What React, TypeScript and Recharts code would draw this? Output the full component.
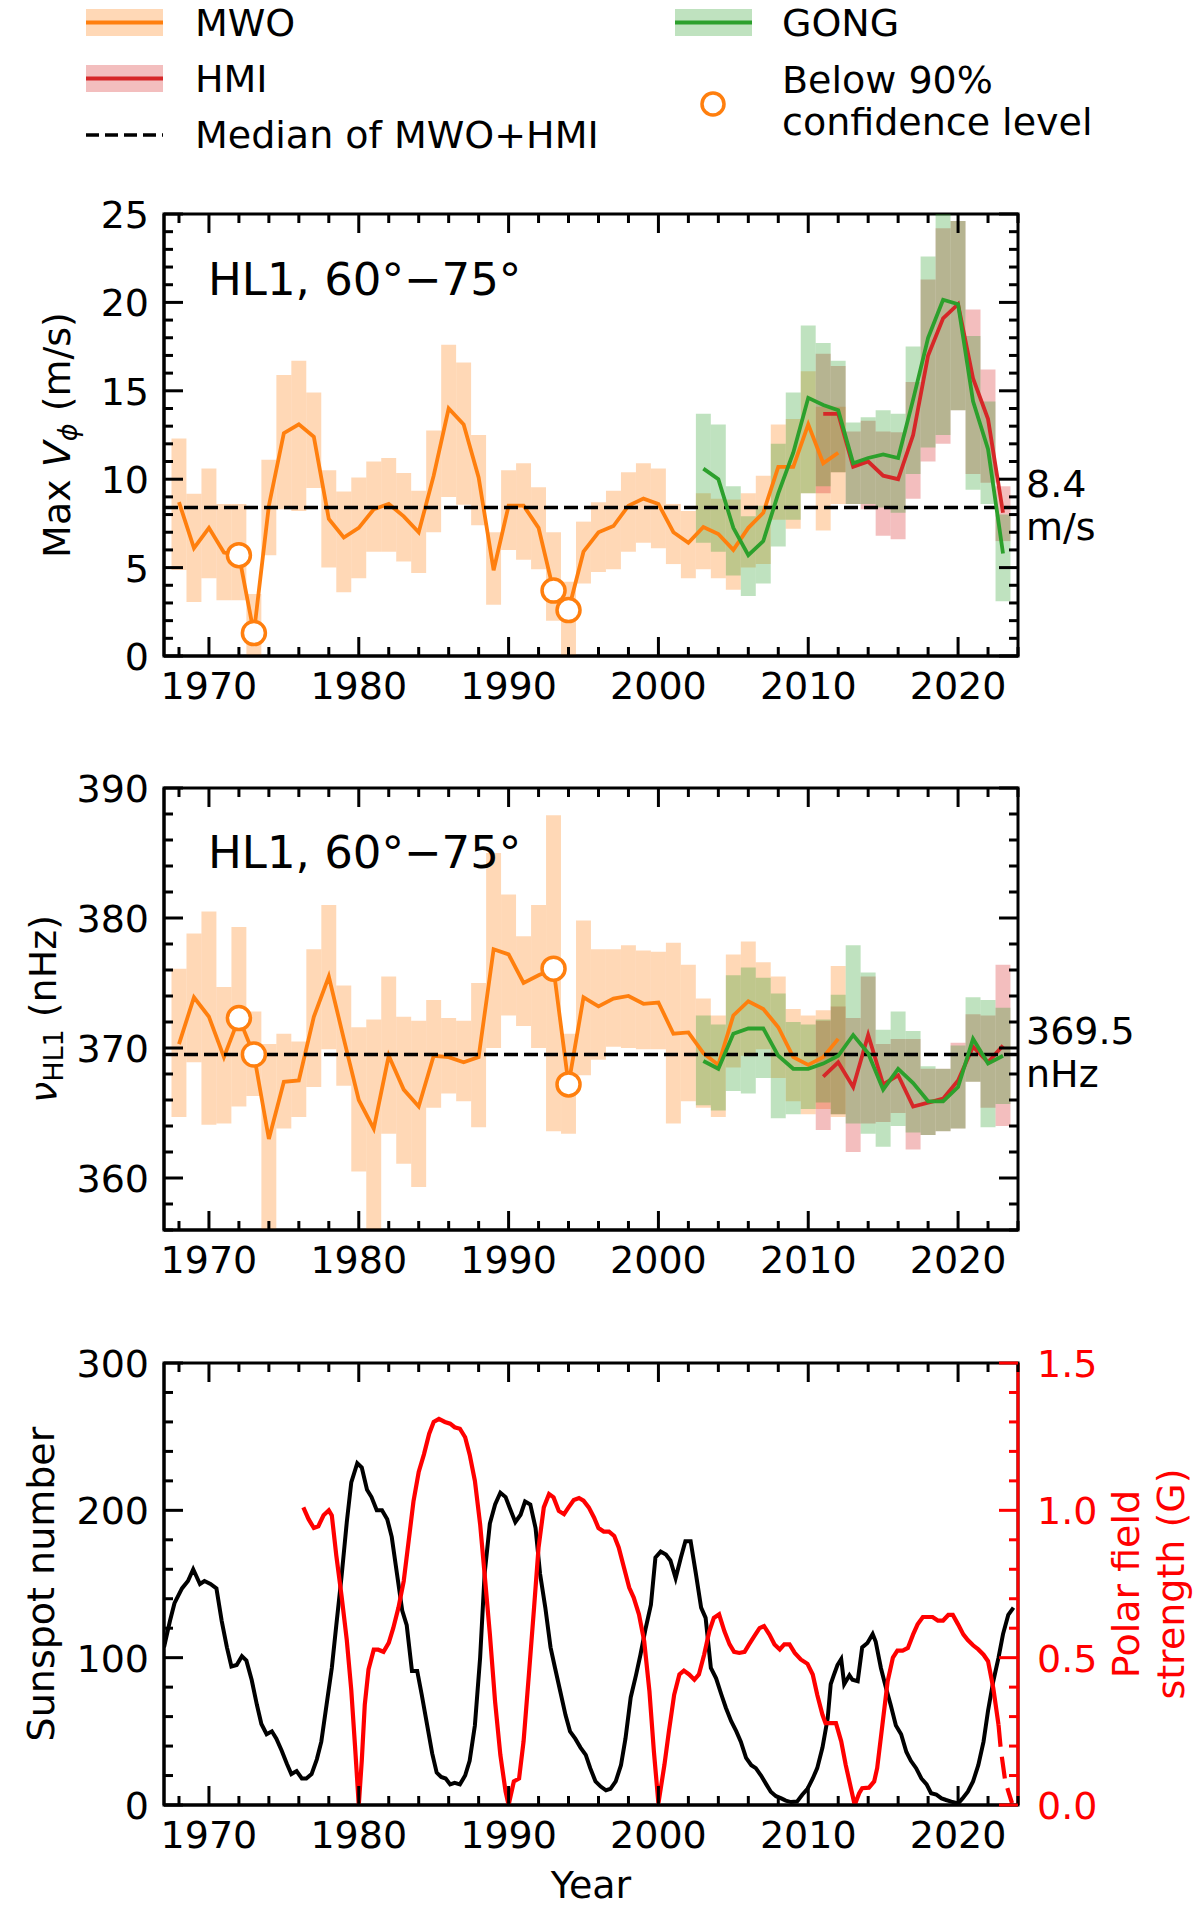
import React from "react";
import {
  Bar,
  ComposedChart,
  Line,
  ReferenceArea,
  ReferenceLine,
  Scatter,
  XAxis,
  YAxis,
} from "recharts";

const FONT = "DejaVu Sans, Verdana, sans-serif";
const ORANGE = "#ff7f0e";
const GREEN = "#2ca02c";
const RED = "#d62728";
const POLAR_RED = "#ff0000";

const PLOT_L = 164;
const PLOT_R = 1018;
const PW = PLOT_R - PLOT_L;
const PH = 442;
const MT = 30;
const AXIS_H = 105;
const X_DOMAIN = [1967, 2024];
const BAR_W = PW / (X_DOMAIN[1] - X_DOMAIN[0]) - 0.05;
const LW = 3.8;

const P1_TOP = 214;
const P2_TOP = 788;
const P3_TOP = 1363;

// ---- ticks ----
const X_TICKS = [
  1968, 1970, 1972, 1974, 1976, 1978, 1980, 1982, 1984, 1986, 1988, 1990, 1992,
  1994, 1996, 1998, 2000, 2002, 2004, 2006, 2008, 2010, 2012, 2014, 2016, 2018,
  2020, 2022, 2024,
];
const V_TICKS = [
  0, 1, 2, 3, 4, 5, 6, 7, 8, 9, 10, 11, 12, 13, 14, 15, 16, 17, 18, 19, 20, 21,
  22, 23, 24, 25,
];
const NU_TICKS = [
  356, 358, 360, 362, 364, 366, 368, 370, 372, 374, 376, 378, 380, 382, 384, 386,
  388, 390,
];
const SSN_TICKS = [
  0, 20, 40, 60, 80, 100, 120, 140, 160, 180, 200, 220, 240, 260, 280, 300,
];
const POLAR_TICKS = [
  0, 0.1, 0.2, 0.3, 0.4, 0.5, 0.6, 0.7, 0.8, 0.9, 1.0, 1.1, 1.2, 1.3, 1.4, 1.5,
];

// ---- years ----
const YEARS = Array.from({ length: 56 }, (_, i) => 1968 + i);
const MWO_START = 1968;
const GONG_START = 2003;
const HMI_START = 2011;

// ---- panel 1: max V_phi (m/s) ----
const V_MWO = [
  8.7, 6.1, 7.25, 5.85, 5.7, 1.3, 8.5, 12.6, 13.1, 12.4, 7.75, 6.7, 7.25, 8.3,
  8.6, 7.9, 7.0, 10.2, 14.0, 13.1, 10.1, 4.85, 8.5, 8.5, 7.25, 3.7, 2.6, 5.9,
  7.0, 7.35, 8.5, 8.9, 8.6, 7.0, 6.4, 7.3, 6.9, 6.0, 7.25, 8.1, 10.7, 10.7, 13.1,
  10.9, 11.5,
];
const V_MWO_LO = [
  4.86, 3.05, 4.4, 3.15, 3.15, -1, 5.7, 8.3, 8.2, 9.5, 5.0, 3.6, 4.4, 5.9, 5.9,
  5.35, 4.7, 7.0, 9.0, 8.55, 7.4, 2.9, 6.0, 5.45, 4.9, 2.0, -1, 4.1, 4.75, 4.9,
  5.9, 6.4, 6.1, 5.2, 4.4, 4.9, 4.4, 3.75, 5.0, 5.2, 7.7, 7.2, 9.2, 7.1, 8.6,
];
const V_MWO_HI = [
  12.3, 9.17, 10.6, 8.6, 8.6, 3.5, 11.1, 15.9, 16.7, 14.9, 10.5, 9.3, 10.1, 11.0,
  11.2, 10.35, 9.35, 12.75, 17.6, 16.6, 12.5, 7.0, 10.5, 10.9, 9.55, 7.0, 4.2,
  7.6, 8.7, 9.35, 10.4, 10.9, 10.6, 8.6, 8.2, 9.2, 8.9, 8.85, 9.2, 10.2, 13.1,
  13.4, 16.1, 14.1, 14.1,
];
const V_GONG = [
  10.6, 10.0, 7.25, 5.7, 6.5, 9.2, 11.5, 14.6, 14.2, 13.9, 10.9, 11.2, 11.4,
  11.2, 14.5, 18.0, 20.15, 19.9, 14.4, 11.7, 5.8,
];
const V_GONG_LO = [
  6.4, 5.9, 4.55, 3.4, 4.1, 6.2, 7.7, 9.2, 9.6, 10.4, 8.6, 8.6, 8.4, 8.1, 10.3,
  11.8, 12.5, 13.9, 9.4, 8.6, 3.1,
];
const V_GONG_HI = [
  13.7, 13.1, 9.6, 7.9, 8.5, 12.0, 14.9, 18.7, 17.7, 16.7, 13.2, 13.5, 13.9,
  13.7, 17.5, 22.6, 25.8, 24.6, 18.1, 14.4, 8.0,
];
const V_HMI = [
  13.7, 13.7, 10.7, 11.0, 10.2, 10.0, 12.5, 17.0, 19.1, 19.9, 15.7, 13.4, 8.1,
];
const V_HMI_LO = [
  9.2, 10.4, 8.6, 8.3, 6.8, 6.6, 8.9, 11.0, 12.0, 13.9, 10.3, 9.8, 6.5,
];
const V_HMI_HI = [
  17.1, 16.4, 12.7, 13.3, 12.7, 12.65, 15.5, 21.3, 24.2, 24.6, 19.6, 16.2, 9.6,
];
const V_LOWCONF_YEARS = [1972, 1973, 1993, 1994];
const V_LOWCONF = [5.7, 1.3, 3.7, 2.6];
const V_MEDIAN = 8.4;

// ---- panel 2: nu_HL1 (nHz) ----
const NU_MWO = [
  370.3, 373.9, 372.4, 369.3, 372.3, 369.5, 363.0, 367.4, 367.5, 372.4, 375.5,
  370.7, 366.0, 363.8, 369.4, 366.8, 365.5, 369.4, 369.3, 368.9, 369.3, 377.6,
  377.2, 375.0, 375.6, 376.1, 367.2, 373.9, 373.2, 373.8, 374.0, 373.4, 373.5,
  371.1, 371.2, 369.6, 368.7, 372.5, 373.6, 373.0, 371.6, 369.3, 368.7, 369.3,
  370.7,
];
const NU_MWO_LO = [
  364.7, 368.9, 364.1, 364.2, 365.5, 366.3, 352.0, 363.8, 364.7, 367.0, 369.9,
  367.1, 360.5, 354.0, 363.4, 361.1, 359.3, 365.4, 366.5, 365.9, 363.9, 370.0,
  372.5, 371.7, 370.0, 363.6, 363.4, 367.9, 369.1, 370.1, 370.0, 369.9, 369.9,
  364.2, 365.9, 365.4, 364.7, 368.5, 369.4, 369.9, 367.7, 365.9, 364.9, 365.3,
  364.7,
];
const NU_MWO_HI = [
  376.1, 378.8, 380.5, 374.7, 379.3, 372.8, 370.3, 371.1, 370.5, 377.6, 381.0,
  374.8, 371.6, 372.2, 375.5, 372.4, 372.1, 373.7, 372.3, 372.1, 375.0, 385.0,
  381.8, 378.6, 381.0, 387.9, 371.1, 379.8, 377.6, 377.6, 377.9, 377.5, 377.4,
  378.1, 376.4, 373.8, 372.5, 377.2, 378.2, 376.6, 375.5, 373.0, 372.5, 372.9,
  376.3,
];
const NU_GONG = [
  369.0, 368.4, 371.1, 371.5, 371.5, 369.4, 368.4, 368.4, 368.8, 369.4, 371.0,
  369.6, 366.8, 368.4, 367.3, 365.9, 365.9, 367.0, 370.7, 368.8, 369.4,
];
const NU_GONG_LO = [
  365.6, 365.2, 366.7, 366.5, 367.7, 364.6, 364.9, 365.3, 365.8, 364.9, 364.2,
  363.4, 362.4, 364.0, 363.5, 363.3, 363.6, 363.8, 367.4, 363.9, 365.7,
];
const NU_GONG_HI = [
  372.5, 371.8, 375.6, 376.2, 375.4, 374.2, 372.0, 371.8, 372.2, 374.1, 377.9,
  375.8, 371.4, 372.8, 371.3, 368.6, 368.4, 370.2, 373.9, 373.7, 373.1,
];
const NU_HMI = [
  367.8, 368.9, 367.0, 371.0, 367.2, 367.9, 365.5, 365.8, 366.1, 367.5, 370.1,
  368.9, 370.2,
];
const NU_HMI_LO = [
  363.7, 364.9, 362.0, 364.2, 364.3, 365.0, 362.2, 363.3, 363.6, 363.8, 367.4,
  365.4, 364.0,
];
const NU_HMI_HI = [
  372.1, 373.2, 372.3, 375.5, 370.3, 370.7, 370.7, 368.4, 368.4, 370.4, 372.6,
  372.5, 376.4,
];
const NU_LOWCONF_YEARS = [1972, 1973, 1993, 1994];
const NU_LOWCONF = [372.3, 369.5, 376.1, 367.2];
const NU_MEDIAN = 369.5;

// ---- panel 3: sunspot number and polar field ----
const SSN_T = [
  1967.0, 1967.4, 1967.7, 1968.2, 1968.6, 1968.95, 1969.4, 1969.7, 1970.1,
  1970.5, 1970.85, 1971.2, 1971.5, 1971.85, 1972.2, 1972.5, 1972.85, 1973.2,
  1973.5, 1973.85, 1974.2, 1974.5, 1974.85, 1975.2, 1975.5, 1975.85, 1976.2,
  1976.5, 1976.85, 1977.2, 1977.5, 1977.85, 1978.2, 1978.5, 1978.85, 1979.2,
  1979.5, 1979.9, 1980.2, 1980.55, 1980.85, 1981.2, 1981.55, 1981.9, 1982.2,
  1982.55, 1982.9, 1983.2, 1983.55, 1983.9, 1984.2, 1984.55, 1984.9, 1985.2,
  1985.5, 1985.8, 1986.1, 1986.4, 1986.75, 1987.1, 1987.4, 1987.75, 1988.1,
  1988.4, 1988.75, 1989.1, 1989.45, 1989.8, 1990.1, 1990.45, 1990.8, 1991.1,
  1991.45, 1991.8, 1992.1, 1992.45, 1992.8, 1993.1, 1993.45, 1993.8, 1994.1,
  1994.45, 1994.8, 1995.15, 1995.45, 1995.8, 1996.15, 1996.5, 1996.8, 1997.15,
  1997.5, 1997.8, 1998.15, 1998.5, 1998.8, 1999.15, 1999.5, 1999.8, 2000.15,
  2000.5, 2000.8, 2001.15, 2001.5, 2001.8, 2002.15, 2002.5, 2002.85, 2003.15,
  2003.5, 2003.85, 2004.2, 2004.5, 2004.85, 2005.2, 2005.5, 2005.85, 2006.2,
  2006.5, 2006.85, 2007.2, 2007.5, 2007.85, 2008.2, 2008.5, 2008.85, 2009.25,
  2009.6, 2009.95, 2010.3, 2010.6, 2010.95, 2011.3, 2011.5, 2011.7, 2011.95,
  2012.2, 2012.4, 2012.75, 2012.95, 2013.3, 2013.6, 2013.95, 2014.3, 2014.5,
  2014.85, 2015.2, 2015.5, 2015.85, 2016.2, 2016.55, 2016.85, 2017.2, 2017.55,
  2017.9, 2018.2, 2018.55, 2018.9, 2019.2, 2019.55, 2020.0, 2020.3, 2020.65,
  2021.0, 2021.35, 2021.7, 2022.0, 2022.35, 2022.7, 2023.0, 2023.35, 2023.7,
];
const SSN_V = [
  107, 125, 137, 147, 152, 160, 150, 152, 150, 147, 125, 107, 94, 95, 101, 98,
  85, 68, 55, 48, 50, 45, 37, 28, 21, 23, 18, 18, 21, 31, 43, 68, 93, 122, 155,
  192, 219, 232, 229, 214, 209, 200, 200, 194, 182, 157, 132, 122, 91, 91, 75,
  55, 35, 22, 19, 18, 14, 15, 14, 20, 30, 54, 100, 157, 191, 204, 212, 209, 201,
  192, 197, 206, 204, 188, 157, 134, 107, 93, 77, 61, 50, 45, 39, 34, 25, 16,
  12.5, 10, 11, 16, 27, 45, 73, 88, 102, 120, 136, 168, 172, 170, 166, 154, 168,
  179, 179, 157, 134, 127, 93, 86, 75, 66, 57, 50, 43, 32, 27, 25, 20, 14, 9, 6,
  4.5, 3, 2, 2.3, 7, 11, 18, 25, 39, 59, 82, 88, 95, 99, 82, 88, 85, 84, 107,
  110, 116, 111, 93, 79, 68, 54, 48, 36, 30, 25, 18, 14, 8, 7, 4.5, 3.4, 2.3, 1,
  4.5, 9, 16, 27, 43, 64, 84, 100, 116, 129, 134,
];
const POLAR_T = [
  1976.3, 1976.65, 1977.0, 1977.3, 1977.65, 1978.0, 1978.2, 1978.5, 1978.85,
  1979.2, 1979.5, 1979.75, 1980.0, 1980.2, 1980.4, 1980.65, 1981.0, 1981.3,
  1981.65, 1982.0, 1982.3, 1982.65, 1983.0, 1983.3, 1983.65, 1984.0, 1984.35,
  1984.7, 1985.0, 1985.35, 1985.75, 1986.1, 1986.4, 1986.75, 1987.1, 1987.4,
  1987.75, 1988.1, 1988.4, 1988.75, 1989.1, 1989.45, 1989.8, 1990.0, 1990.35,
  1990.7, 1991.0, 1991.35, 1991.7, 1992.0, 1992.35, 1992.7, 1993.0, 1993.35,
  1993.7, 1994.0, 1994.35, 1994.7, 1995.0, 1995.35, 1995.7, 1996.0, 1996.35,
  1996.7, 1997.05, 1997.35, 1997.7, 1998.05, 1998.35, 1998.7, 1999.05, 1999.4,
  1999.7, 2000.0, 2000.4, 2000.7, 2001.05, 2001.4, 2001.7, 2002.05, 2002.4,
  2002.7, 2003.05, 2003.4, 2003.7, 2004.05, 2004.4, 2004.75, 2005.05, 2005.4,
  2005.75, 2006.05, 2006.4, 2006.75, 2007.05, 2007.4, 2007.75, 2008.1, 2008.4,
  2008.75, 2009.1, 2009.5, 2009.95, 2010.3, 2010.6, 2010.95, 2011.15, 2011.5,
  2011.85, 2012.2, 2012.5, 2012.85, 2013.1, 2013.4, 2013.6, 2014.05, 2014.4,
  2014.6, 2014.95, 2015.3, 2015.65, 2015.95, 2016.3, 2016.65, 2017.0, 2017.3,
  2017.65, 2018.0, 2018.3, 2018.65, 2019.0, 2019.35, 2019.65, 2020.0, 2020.35,
  2020.65, 2021.0, 2021.35, 2021.7, 2022.0, 2022.35, 2022.7,
];
const POLAR_V = [
  1.01, 0.97, 0.94, 0.946, 0.983, 1.0, 0.983, 0.847, 0.71, 0.56, 0.39, 0.2, 0.0,
  0.15, 0.34, 0.46, 0.527, 0.527, 0.52, 0.55, 0.6, 0.67, 0.76, 0.884, 1.03, 1.13,
  1.19, 1.26, 1.3, 1.31, 1.3, 1.294, 1.282, 1.277, 1.248, 1.19, 1.1, 0.953,
  0.783, 0.58, 0.35, 0.17, 0.045, 0.0, 0.08, 0.09, 0.216, 0.44, 0.67, 0.874,
  1.01, 1.055, 1.044, 0.998, 0.987, 1.01, 1.035, 1.042, 1.033, 1.01, 0.976,
  0.94, 0.928, 0.928, 0.913, 0.874, 0.806, 0.738, 0.704, 0.647, 0.556, 0.386,
  0.18, 0.006, 0.136, 0.25, 0.374, 0.443, 0.456, 0.443, 0.425, 0.443, 0.51,
  0.59, 0.635, 0.647, 0.59, 0.545, 0.52, 0.516, 0.52, 0.545, 0.573, 0.6, 0.607,
  0.579, 0.545, 0.528, 0.545, 0.545, 0.516, 0.494, 0.479, 0.443, 0.374, 0.306,
  0.278, 0.278, 0.278, 0.216, 0.136, 0.057, 0.0, 0.04, 0.057, 0.059, 0.08,
  0.125, 0.272, 0.42, 0.5, 0.524, 0.524, 0.533, 0.579, 0.613, 0.638, 0.638,
  0.638, 0.626, 0.626, 0.645, 0.645, 0.613, 0.579, 0.56, 0.542, 0.528, 0.51,
  0.488, 0.397, 0.272,
];
const POLAR_TAIL_T = [2022.7, 2022.85, 2023.15, 2023.6];
const POLAR_TAIL_V = [0.272, 0.19, 0.08, 0.006];

type Row = Record<string, number | number[] | undefined>;

function buildRows(
  mwo: number[], mwoLo: number[], mwoHi: number[],
  gong: number[], gongLo: number[], gongHi: number[],
  hmi: number[], hmiLo: number[], hmiHi: number[],
): Row[] {
  return YEARS.map((year) => {
    const row: Row = { year };
    const im = year - MWO_START;
    if (im >= 0 && im < mwo.length) {
      row.mwo = mwo[im];
      row.mwoBand = [mwoLo[im], mwoHi[im]];
    }
    const ig = year - GONG_START;
    if (ig >= 0 && ig < gong.length) {
      row.gong = gong[ig];
      row.gongBand = [gongLo[ig], gongHi[ig]];
    }
    const ih = year - HMI_START;
    if (ih >= 0 && ih < hmi.length) {
      row.hmi = hmi[ih];
      row.hmiBand = [hmiLo[ih], hmiHi[ih]];
    }
    return row;
  });
}

const pairs = (t: number[], v: number[]) => t.map((x, i) => ({ t: x, v: v[i] }));
const points = (t: number[], v: number[]) => t.map((x, i) => ({ year: x, v: v[i] }));

const V_ROWS = buildRows(V_MWO, V_MWO_LO, V_MWO_HI, V_GONG, V_GONG_LO, V_GONG_HI, V_HMI, V_HMI_LO, V_HMI_HI);
const NU_ROWS = buildRows(NU_MWO, NU_MWO_LO, NU_MWO_HI, NU_GONG, NU_GONG_LO, NU_GONG_HI, NU_HMI, NU_HMI_LO, NU_HMI_HI);
const SSN_DATA = pairs(SSN_T, SSN_V);
const POLAR_DATA = pairs(POLAR_T, POLAR_V);
const POLAR_TAIL = pairs(POLAR_TAIL_T, POLAR_TAIL_V);

// ---- ticks drawn inward, matplotlib style ----
const isMajor = (v: number, step: number) => Math.abs(v / step - Math.round(v / step)) < 1e-6;

function makeXTick() {
  return (props: any) => {
    const { x, y, payload } = props;
    const v = payload.value as number;
    const major = isMajor(v, 10);
    const len = major ? 19 : 9;
    const top = y - PH;
    return (
      <g>
        <line x1={x} x2={x} y1={y} y2={y - len} stroke="#000" strokeWidth={3} />
        <line x1={x} x2={x} y1={top} y2={top + len} stroke="#000" strokeWidth={3} />
        {major && (
          <text x={x} y={y + 43} textAnchor="middle" fontSize={38} fontFamily={FONT} fill="#000">
            {v}
          </text>
        )}
      </g>
    );
  };
}

function makeYTick(step: number, mirror: boolean) {
  return (props: any) => {
    const { x, y, payload } = props;
    const v = payload.value as number;
    const major = isMajor(v, step);
    const len = major ? 19 : 9;
    return (
      <g>
        <line x1={x} x2={x + len} y1={y} y2={y} stroke="#000" strokeWidth={3} />
        {mirror && (
          <line x1={x + PW - len} x2={x + PW} y1={y} y2={y} stroke="#000" strokeWidth={3} />
        )}
        {major && (
          <text x={x - 15} y={y + 14} textAnchor="end" fontSize={38} fontFamily={FONT} fill="#000">
            {v}
          </text>
        )}
      </g>
    );
  };
}

function polarTick(props: any) {
  const { x, y, payload } = props;
  const v = payload.value as number;
  const major = isMajor(v, 0.5);
  const len = major ? 19 : 9;
  return (
    <g>
      <line x1={x - len} x2={x} y1={y} y2={y} stroke={POLAR_RED} strokeWidth={3} />
      {major && (
        <text x={x + 19} y={y + 14} textAnchor="start" fontSize={38} fontFamily={FONT} fill={POLAR_RED}>
          {v.toFixed(1)}
        </text>
      )}
    </g>
  );
}

const openCircle = (p: any) => (
  <circle cx={p.cx} cy={p.cy} r={11.5} fill="#fff" stroke={ORANGE} strokeWidth={3.5} />
);

function RotationPanel({ rows, domain, ticks, step, median, lowYears, lowVals }: {
  rows: Row[];
  domain: number[];
  ticks: number[];
  step: number;
  median: number;
  lowYears: number[];
  lowVals: number[];
}) {
  return (
    <ComposedChart
      width={1200}
      height={MT + PH + AXIS_H}
      data={rows}
      margin={{ top: MT, right: 1200 - PLOT_R, bottom: 0, left: 0 }}
    >
      <XAxis
        xAxisId="x"
        dataKey="year"
        type="number"
        domain={X_DOMAIN}
        ticks={X_TICKS}
        interval={0}
        tickSize={0}
        tickMargin={0}
        tickLine={false}
        height={AXIS_H}
        allowDataOverflow
        axisLine={{ stroke: "#000", strokeWidth: 3 }}
        tick={makeXTick()}
      />
      <XAxis xAxisId="g" orientation="top" height={0} dataKey="year" type="number" domain={X_DOMAIN} allowDataOverflow hide />
      <XAxis xAxisId="h" orientation="top" height={0} dataKey="year" type="number" domain={X_DOMAIN} allowDataOverflow hide />
      <YAxis
        yAxisId="y"
        type="number"
        domain={domain}
        ticks={ticks}
        interval={0}
        tickSize={0}
        tickMargin={0}
        tickLine={false}
        width={PLOT_L}
        allowDataOverflow
        axisLine={{ stroke: "#000", strokeWidth: 3 }}
        tick={makeYTick(step, true)}
      />
      <Bar xAxisId="x" yAxisId="y" dataKey="mwoBand" fill={ORANGE} fillOpacity={0.3} barSize={BAR_W} isAnimationActive={false} />
      <Bar xAxisId="h" yAxisId="y" dataKey="hmiBand" fill={RED} fillOpacity={0.3} barSize={BAR_W} isAnimationActive={false} />
      <Bar xAxisId="g" yAxisId="y" dataKey="gongBand" fill={GREEN} fillOpacity={0.3} barSize={BAR_W} isAnimationActive={false} />
      <Line xAxisId="x" yAxisId="y" dataKey="mwo" stroke={ORANGE} strokeWidth={LW} dot={false} isAnimationActive={false} />
      <Line xAxisId="x" yAxisId="y" dataKey="hmi" stroke={RED} strokeWidth={LW} dot={false} isAnimationActive={false} />
      <ReferenceLine xAxisId="x" yAxisId="y" y={median} stroke="#000" strokeWidth={3.5} strokeDasharray="14 6" />
      <Line xAxisId="x" yAxisId="y" dataKey="gong" stroke={GREEN} strokeWidth={LW} dot={false} isAnimationActive={false} />
      <Scatter
        xAxisId="x"
        yAxisId="y"
        data={points(lowYears, lowVals)}
        dataKey="v"
        shape={openCircle}
        isAnimationActive={false}
      />
      <ReferenceArea
        xAxisId="x"
        yAxisId="y"
        x1={X_DOMAIN[0]}
        x2={X_DOMAIN[1]}
        y1={domain[0]}
        y2={domain[1]}
        fill="none"
        stroke="#000"
        strokeWidth={3}
      />
    </ComposedChart>
  );
}

function SunspotPanel() {
  return (
    <ComposedChart
      width={1200}
      height={MT + PH + AXIS_H}
      margin={{ top: MT, right: 0, bottom: 0, left: 0 }}
    >
      <XAxis
        xAxisId="x"
        dataKey="t"
        type="number"
        domain={X_DOMAIN}
        ticks={X_TICKS}
        interval={0}
        tickSize={0}
        tickMargin={0}
        tickLine={false}
        height={AXIS_H}
        allowDataOverflow
        axisLine={{ stroke: "#000", strokeWidth: 3 }}
        tick={makeXTick()}
      />
      <YAxis
        yAxisId="l"
        type="number"
        domain={[0, 300]}
        ticks={SSN_TICKS}
        interval={0}
        tickSize={0}
        tickMargin={0}
        tickLine={false}
        width={PLOT_L}
        allowDataOverflow
        axisLine={{ stroke: "#000", strokeWidth: 3 }}
        tick={makeYTick(100, false)}
      />
      <YAxis
        yAxisId="r"
        orientation="right"
        type="number"
        domain={[0, 1.5]}
        ticks={POLAR_TICKS}
        interval={0}
        tickSize={0}
        tickMargin={0}
        tickLine={false}
        width={1200 - PLOT_R}
        allowDataOverflow
        axisLine={false}
        tick={polarTick}
      />
      <ReferenceArea
        xAxisId="x"
        yAxisId="l"
        x1={X_DOMAIN[0]}
        x2={X_DOMAIN[1]}
        y1={0}
        y2={300}
        fill="none"
        stroke="#000"
        strokeWidth={3}
      />
      <Line xAxisId="x" yAxisId="l" data={SSN_DATA} dataKey="v" stroke="#000" strokeWidth={4} dot={false} isAnimationActive={false} />
      <Line xAxisId="x" yAxisId="r" data={POLAR_DATA} dataKey="v" stroke={POLAR_RED} strokeWidth={4.2} dot={false} isAnimationActive={false} />
      <Line xAxisId="x" yAxisId="r" data={POLAR_TAIL} dataKey="v" stroke={POLAR_RED} strokeWidth={4.2} strokeDasharray="22 10" dot={false} isAnimationActive={false} />
      <ReferenceLine xAxisId="x" yAxisId="r" x={X_DOMAIN[1]} stroke={POLAR_RED} strokeWidth={3} />
    </ComposedChart>
  );
}

const txt = { fontFamily: FONT, fontSize: 38, fill: "#000" } as const;

function Overlay() {
  return (
    <svg
      width={1200}
      height={1912}
      style={{ position: "absolute", left: 0, top: 0, pointerEvents: "none" }}
    >
      {/* legend */}
      <rect x={86} y={9} width={77} height={27} fill={ORANGE} fillOpacity={0.3} />
      <line x1={86} x2={163} y1={22.5} y2={22.5} stroke={ORANGE} strokeWidth={LW} />
      <text x={195} y={36} {...txt}>MWO</text>
      <rect x={86} y={65} width={77} height={27} fill={RED} fillOpacity={0.3} />
      <line x1={86} x2={163} y1={78.5} y2={78.5} stroke={RED} strokeWidth={LW} />
      <text x={195} y={92} {...txt}>HMI</text>
      <line x1={86} x2={163} y1={135} y2={135} stroke="#000" strokeWidth={3.5} strokeDasharray="13 6" />
      <text x={195} y={148} {...txt}>Median of MWO+HMI</text>
      <rect x={675} y={9} width={77} height={27} fill={GREEN} fillOpacity={0.3} />
      <line x1={675} x2={752} y1={22.5} y2={22.5} stroke={GREEN} strokeWidth={LW} />
      <text x={782} y={36} {...txt}>GONG</text>
      <circle cx={713} cy={104} r={11} fill="#fff" stroke={ORANGE} strokeWidth={3.5} />
      <text x={782} y={93} {...txt}>Below 90%</text>
      <text x={782} y={135} {...txt}>confidence level</text>

      {/* panel 1 */}
      <text x={208} y={P1_TOP + 81} {...txt} fontSize={45}>HL1, 60°−75°</text>
      <text x={1026} y={497} {...txt}>8.4</text>
      <text x={1026} y={540} {...txt}>m/s</text>
      <text transform={`translate(70, ${P1_TOP + PH / 2}) rotate(-90)`} textAnchor="middle" {...txt}>
        Max <tspan fontStyle="italic">V</tspan>
        <tspan fontSize={27} dy={7} fontStyle="italic">ϕ</tspan>
        <tspan dy={-7}> (m/s)</tspan>
      </text>

      {/* panel 2 */}
      <text x={208} y={P2_TOP + 80} {...txt} fontSize={45}>HL1, 60°−75°</text>
      <text x={1026} y={1044} {...txt}>369.5</text>
      <text x={1026} y={1087} {...txt}>nHz</text>
      <text transform={`translate(56, ${P2_TOP + PH / 2}) rotate(-90)`} textAnchor="middle" {...txt}>
        <tspan fontStyle="italic">ν</tspan>
        <tspan fontSize={27} dy={7}>HL1</tspan>
        <tspan dy={-7}> (nHz)</tspan>
      </text>

      {/* panel 3 */}
      <text transform={`translate(54, ${P3_TOP + PH / 2}) rotate(-90)`} textAnchor="middle" {...txt}>
        Sunspot number
      </text>
      <text transform={`translate(1139, ${P3_TOP + PH / 2}) rotate(-90)`} textAnchor="middle" {...txt} fill={POLAR_RED}>
        Polar field
      </text>
      <text transform={`translate(1184, ${P3_TOP + PH / 2}) rotate(-90)`} textAnchor="middle" {...txt} fill={POLAR_RED}>
        strength (G)
      </text>
      <text x={(PLOT_L + PLOT_R) / 2} y={1898} textAnchor="middle" {...txt}>Year</text>
    </svg>
  );
}

export default function App() {
  return (
    <div
      style={{
        position: "absolute",
        left: 0,
        top: 0,
        width: 1200,
        height: 1912,
        background: "#fff",
        overflow: "hidden",
      }}
    >
      <div style={{ position: "absolute", left: 0, top: P1_TOP - MT }}>
        <RotationPanel
          rows={V_ROWS}
          domain={[0, 25]}
          ticks={V_TICKS}
          step={5}
          median={V_MEDIAN}
          lowYears={V_LOWCONF_YEARS}
          lowVals={V_LOWCONF}
        />
      </div>
      <div style={{ position: "absolute", left: 0, top: P2_TOP - MT }}>
        <RotationPanel
          rows={NU_ROWS}
          domain={[356, 390]}
          ticks={NU_TICKS}
          step={10}
          median={NU_MEDIAN}
          lowYears={NU_LOWCONF_YEARS}
          lowVals={NU_LOWCONF}
        />
      </div>
      <div style={{ position: "absolute", left: 0, top: P3_TOP - MT }}>
        <SunspotPanel />
      </div>
      <Overlay />
    </div>
  );
}
